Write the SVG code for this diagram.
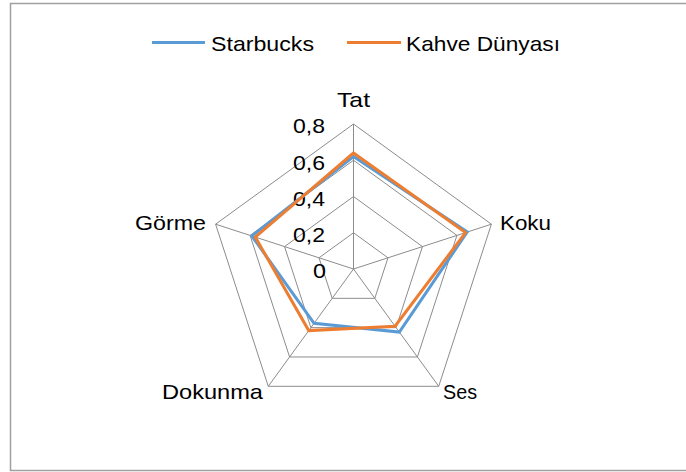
<svg xmlns="http://www.w3.org/2000/svg" width="686" height="472" viewBox="0 0 686 472">
<style>
.t{font-family:"Liberation Sans",Arial,sans-serif;font-size:21px;fill:#000}
.grid{fill:none;stroke:#8c8c8c;stroke-width:1}
.s1{fill:none;stroke:#5b9bd5;stroke-width:3;stroke-linejoin:miter}
.s2{fill:none;stroke:#ed7d31;stroke-width:3;stroke-linejoin:miter}
</style>
<rect x="0" y="0" width="686" height="472" fill="#fff"/>
<rect x="10.5" y="3.5" width="690" height="467" fill="none" stroke="#a0a0a0" stroke-width="1.5"/>
<g id="legend">
<line x1="152" y1="42.5" x2="205" y2="42.5" stroke="#5b9bd5" stroke-width="3"/>
<text class="t" x="211" y="51" textLength="103" lengthAdjust="spacingAndGlyphs">Starbucks</text>
<line x1="347" y1="42.5" x2="401" y2="42.5" stroke="#ed7d31" stroke-width="3"/>
<text class="t" x="406" y="51" textLength="154" lengthAdjust="spacingAndGlyphs">Kahve Dünyası</text>
</g>
<g id="grid">
<polygon class="grid" points="353.5,124 491.4,224.19 438.73,386.31 268.27,386.31 215.6,224.19"/>
<polygon class="grid" points="353.5,160.25 456.93,235.39 417.42,356.98 289.58,356.98 250.07,235.39"/>
<polygon class="grid" points="353.5,196.5 422.45,246.6 396.11,327.65 310.89,327.65 284.55,246.6"/>
<polygon class="grid" points="353.5,232.75 387.98,257.8 374.81,298.33 332.19,298.33 319.02,257.8"/>
<path class="grid" d="M353.5,269 L353.5,124 M353.5,269 L491.4,224.19 M353.5,269 L438.73,386.31 M353.5,269 L268.27,386.31 M353.5,269 L215.6,224.19"/>
</g>
<g id="ticks">
<text class="t" x="293" y="133" textLength="32" lengthAdjust="spacingAndGlyphs">0,8</text>
<text class="t" x="293" y="169.5" textLength="32" lengthAdjust="spacingAndGlyphs">0,6</text>
<text class="t" x="293" y="206" textLength="32" lengthAdjust="spacingAndGlyphs">0,4</text>
<text class="t" x="293" y="242" textLength="32" lengthAdjust="spacingAndGlyphs">0,2</text>
<text class="t" x="313" y="277.5" textLength="13" lengthAdjust="spacingAndGlyphs">0</text>
</g>
<g id="axis-labels">
<text class="t" x="337" y="107" textLength="33" lengthAdjust="spacingAndGlyphs">Tat</text>
<text class="t" x="500" y="229.5" textLength="51" lengthAdjust="spacingAndGlyphs">Koku</text>
<text class="t" x="443" y="399" textLength="34" lengthAdjust="spacingAndGlyphs">Ses</text>
<text class="t" x="162" y="399" textLength="101" lengthAdjust="spacingAndGlyphs">Dokunma</text>
<text class="t" x="135" y="230" textLength="71" lengthAdjust="spacingAndGlyphs">Görme</text>
</g>
<g id="connectors">
<polygon id="starbucks" class="s1" points="353.5,156.6 467.26,232.03 399.31,332.05 314.08,323.25 251.8,235.95"/>
<polygon id="kahve-dunyasi" class="s2" points="353.5,153 465.55,232.59 395.05,326.19 308.75,330.59 255.25,237.08"/>
</g>
</svg>
